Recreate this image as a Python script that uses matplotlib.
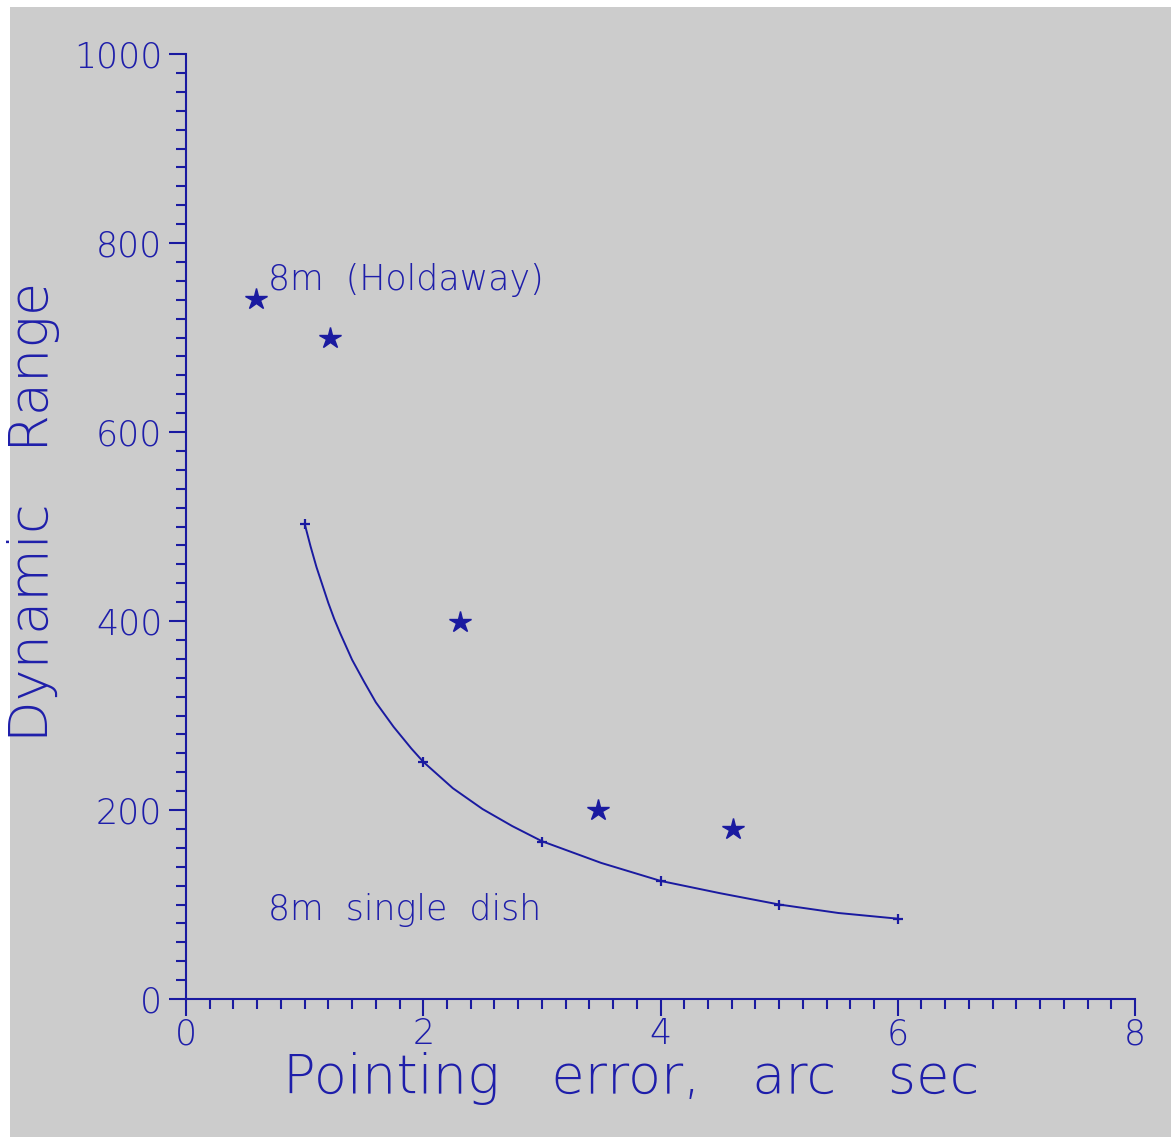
import numpy as np
import matplotlib
matplotlib.use("Agg")
import matplotlib.pyplot as plt
from matplotlib.patches import Rectangle
from matplotlib.ticker import MultipleLocator

# data
holdaway_x = [0.59, 1.21, 2.31, 3.47, 4.61]
holdaway_y = [741, 699, 399, 200, 180]

dish_x = [1, 2, 3, 4, 5, 6]
dish_y = [503, 251, 166, 125, 100, 85]

# curve traced between the markers
curve_x = [1.0, 1.05, 1.1, 1.2, 1.25, 1.3, 1.4, 1.5, 1.6, 1.75, 1.9, 2.0, 2.25, 2.5,
           2.75, 3.0, 3.5, 4.0, 4.5, 5.0, 5.5, 6.0]
curve_y = [503, 479, 457, 419, 402, 387, 359, 336, 314, 288, 265, 251, 223, 201,
           183, 167, 144, 125, 112, 100, 91, 85]

x_ticks = [0, 2, 4, 6, 8]
y_ticks = [0, 200, 400, 600, 800, 1000]

BLUE = "#1a1aa0"
TXT = "#1e1eaa"
GRAY = "#cccccc"

fig = plt.figure(figsize=(11.71, 11.37), dpi=100, facecolor="white")
fig.patches.append(Rectangle((10 / 1171, 0), 1, 1 - 7 / 1137, transform=fig.transFigure,
                             facecolor=GRAY, edgecolor="none", zorder=-10))

ax = fig.add_axes([186 / 1171, 1 - 999 / 1137, 949 / 1171, 945 / 1137])
ax.set_facecolor("none")
ax.set_xlim(0, 8)
ax.set_ylim(0, 1000)

for side in ["top", "right"]:
    ax.spines[side].set_visible(False)
for side in ["left", "bottom"]:
    ax.spines[side].set_color(BLUE)
    ax.spines[side].set_linewidth(1.5)

ax.xaxis.set_minor_locator(MultipleLocator(0.2))
ax.yaxis.set_minor_locator(MultipleLocator(20))
ax.set_xticks(x_ticks)
ax.set_yticks(y_ticks)
ax.tick_params(which="major", length=12, width=1.5, color=BLUE, labelcolor=TXT,
               labelsize=25)
ax.tick_params(axis="x", which="major", pad=1)
ax.tick_params(axis="y", which="major", pad=5)
ax.tick_params(which="minor", length=7, width=1.5, color=BLUE)
for lab in ax.get_xticklabels() + ax.get_yticklabels():
    lab.set_fontweight("light")

ax.plot(curve_x, curve_y, color=BLUE, lw=1.4, clip_on=False)
ax.plot(dish_x, dish_y, ls="none", marker="+", ms=7, mew=1.6, color=BLUE, clip_on=False)
ax.plot(holdaway_x, holdaway_y, ls="none", marker="*", ms=16, color=BLUE, clip_on=False)

ax.text(0.69, 761, "8m  (Holdaway)", color=TXT, fontsize=25, fontweight="light",
        va="center", ha="left")
ax.text(0.69, 94, "8m  single  dish", color=TXT, fontsize=25, fontweight="light",
        va="center", ha="left")

ax.set_xlabel("Pointing   error,   arc   sec", color=TXT, fontsize=39, fontweight="light",
              labelpad=1)
ax.xaxis.label.set_x(0.469)
ax.set_ylabel("Dynamic   Range", color=TXT, fontsize=39, fontweight="light", labelpad=10)
ax.yaxis.label.set_y(0.516)

fig.savefig("out.png", dpi=100, facecolor=fig.get_facecolor())
